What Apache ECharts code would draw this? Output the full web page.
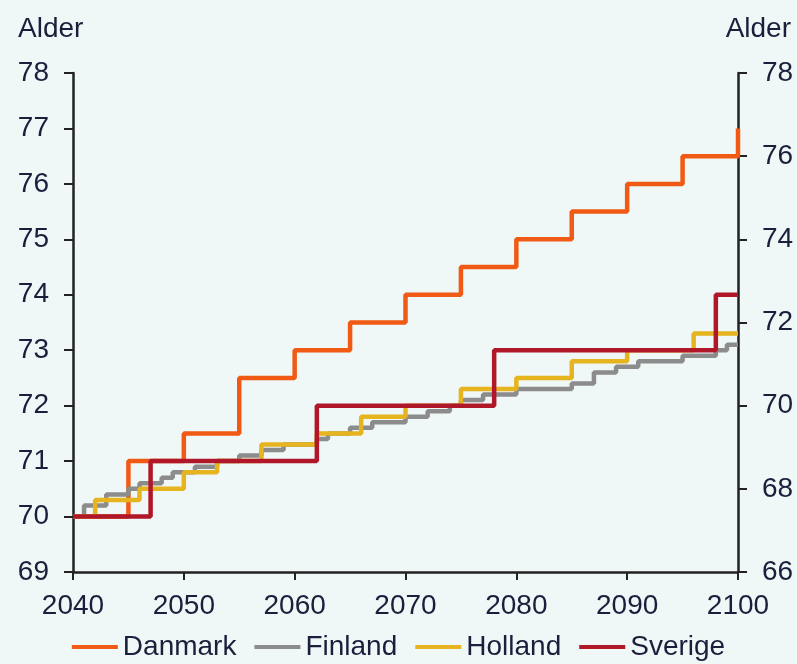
<!DOCTYPE html>
<html>
<head>
<meta charset="utf-8">
<script src="https://cdn.jsdelivr.net/npm/echarts@6/dist/echarts.min.js"></script>
<style>
html,body{margin:0;padding:0;background:#EFF7F7;}
#c{width:797px;height:664px;}
</style>
</head>
<body>
<div id="c"></div>
<script>
const danmarkYears = [2040,2045,2050,2055,2060,2065,2070,2075,2080,2085,2090,2095,2100];
const danmarkValues = [70,71,71.5,72.5,73,73.5,74,74.5,75,75.5,76,76.5,77];

const finlandYears = [2040,2041,2043,2045,2046,2048,2049,2051,2053,2055,2057,2059,2062,2063,2065,2067,2070,2072,2074,2075,2077,2080,2085,2087,2089,2091,2095,2098,2099,2100];
const finlandValues = [70,70.2,70.4,70.5,70.6,70.7,70.8,70.9,71,71.1,71.2,71.3,71.4,71.5,71.6,71.7,71.8,71.9,72,72.1,72.2,72.3,72.4,72.6,72.7,72.8,72.9,73,73.1,73.1];

const hollandYears = [2040,2042,2046,2050,2053,2057,2062,2066,2070,2075,2080,2085,2090,2096,2100];
const hollandValues = [70,70.3,70.5,70.8,71,71.3,71.5,71.8,72,72.3,72.5,72.8,73,73.3,73.3];

const sverigeYears = [2040,2047,2062,2078,2098,2100];
const sverigeValues = [70,71,72,73,74,74];

const seriesNames = ['Danmark','Finland','Holland','Sverige'];
const seriesColors = ['#F05A14','#8C8C8C','#E6B41E','#B0182A'];

const FONT = '"Liberation Sans Narrow","Liberation Sans",Arial,sans-serif';
const TXT = '#1B1F3B';
const FS = 28;

function pairs(xs, ys){ return xs.map((x,i)=>[x, ys[i]]); }
const allData = [
  pairs(danmarkYears, danmarkValues),
  pairs(finlandYears, finlandValues),
  pairs(hollandYears, hollandValues),
  pairs(sverigeYears, sverigeValues)
];

const chart = echarts.init(document.getElementById('c'), null, {renderer:'canvas'});
const axisLine = {show:true, lineStyle:{color:'#222', width:2.5}};
chart.setOption({
  backgroundColor:'#EFF7F7',
  animation:false,
  textStyle:{fontFamily:FONT},
  grid:{left:73, right:59, top:73, bottom:92, containLabel:false},
  graphic:[
    {type:'text', left:18, top:15, style:{text:'Alder', font:FS+'px '+FONT, fill:TXT}},
    {type:'text', right:6, top:15, style:{text:'Alder', font:FS+'px '+FONT, fill:TXT}}
  ],
  xAxis:{
    type:'value', min:2040, max:2100, interval:10,
    axisLine:axisLine,
    axisTick:{show:true, length:8, lineStyle:{color:'#222', width:2}},
    splitLine:{show:false},
    axisLabel:{color:TXT, fontSize:FS, fontFamily:FONT, margin:20, formatter:v=>String(v)}
  },
  yAxis:[
    {type:'value', min:69, max:78, interval:1, position:'left',
     axisLine:axisLine,
     axisTick:{show:true, length:9, lineStyle:{color:'#222', width:2}},
     splitLine:{show:false},
     axisLabel:{color:TXT, fontSize:FS, fontFamily:FONT, margin:24}},
    {type:'value', min:66, max:78, interval:2, position:'right',
     axisLine:axisLine,
     axisTick:{show:true, length:9, lineStyle:{color:'#222', width:2}},
     splitLine:{show:false},
     axisLabel:{color:TXT, fontSize:FS, fontFamily:FONT, margin:24}}
  ],
  legend:{
    bottom:-2, left:'center',
    icon:'rect', itemWidth:46, itemHeight:4, itemGap:18,
    textStyle:{color:TXT, fontSize:FS, fontFamily:FONT},
    data:seriesNames
  },
  series: seriesNames.map((n,i)=>({
    name:n, type:'line', step:'end', yAxisIndex:0,
    data:allData[i], showSymbol:false, symbol:'none',
    lineStyle:{color:seriesColors[i], width:4.5},
    itemStyle:{color:seriesColors[i]},
    z:2+i
  }))
});
</script>
</body>
</html>
